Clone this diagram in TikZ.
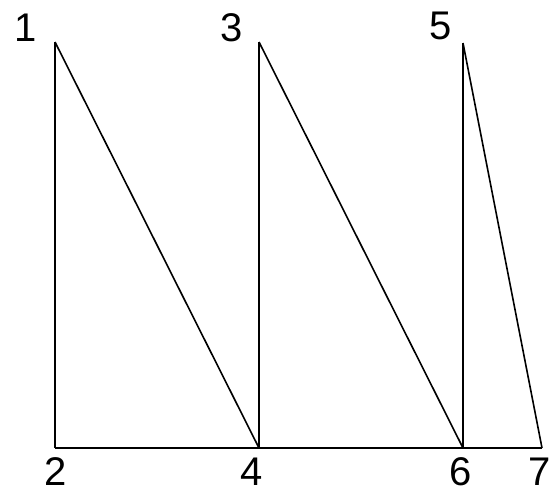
\documentclass[tikz,border=0pt]{standalone}
\usepackage{fontspec}
\setmainfont{Liberation Sans}
\begin{document}
\begin{tikzpicture}[x=1pt,y=-1pt,
  seg/.style={line width=1.6pt,black},
  lab/.style={font=\fontsize{40}{40}\selectfont,inner sep=0pt,anchor=center}]
\useasboundingbox (0,0) rectangle (553,493);
\coordinate (p1) at (55,42);
\coordinate (p2) at (55,448);
\coordinate (p3) at (259,42);
\coordinate (p4) at (259,448);
\coordinate (p5) at (463,43);
\coordinate (p6) at (463,448);
\coordinate (p7) at (542,448);
\draw[seg] (p1) -- (p2);
\draw[seg] (p3) -- (p4);
\draw[seg] (p5) -- (p6);
\draw[seg] (p1) -- (p4);
\draw[seg] (p3) -- (p6);
\draw[seg] (p5) -- (p7);
\draw[seg] (p2) -- (p7);
\node[lab] (l1) at (26,28) {1};
\node[lab] (l3) at (232,28) {3};
\node[lab] (l5) at (441,26) {5};
\node[lab] (l2) at (56,472) {2};
\node[lab] (l4) at (252,472) {4};
\node[lab] (l6) at (461,472) {6};
\node[lab] (l7) at (540,472) {7};
\end{tikzpicture}
\end{document}
